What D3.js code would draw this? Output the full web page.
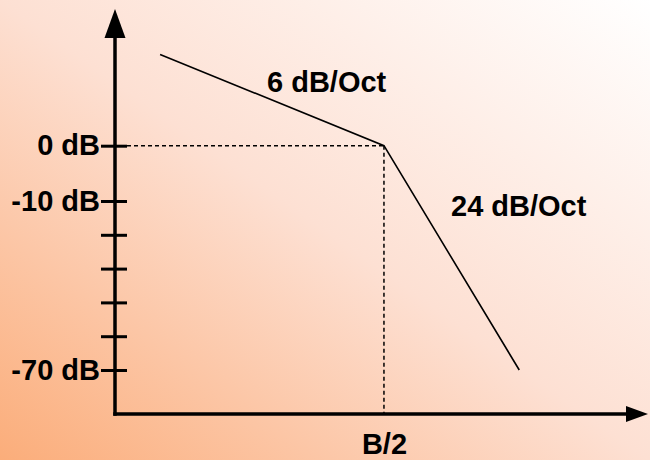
<!DOCTYPE html>
<html>
<head>
<meta charset="utf-8">
<script src="https://cdn.jsdelivr.net/npm/d3@7"></script>
<style>
  body { margin: 0; background: #fff; }
  svg { display: block; }
  text { font-family: "Liberation Sans", Arial, sans-serif; font-weight: bold; fill: #000; }
</style>
</head>
<body>
<svg width="650" height="460"></svg>
<script>
// response in octaves relative to B/2 and dB
const octaves = [-2.73, 0, 1.65];
const levels = [16.5, 0, -70];

const dbTicks = [0, -10, -22, -34, -46, -58, -70];
const dbLabels = ["0 dB", "-10 dB", "", "", "", "", "-70 dB"];
const xTicks = [0];
const xLabels = ["B/2"];
const slopeLabels = ["6 dB/Oct", "24 dB/Oct"];

const ox = 115, oy = 414;   // axis origin
const svg = d3.select("svg");

// background gradient
const grad = svg.append("defs").append("linearGradient")
  .attr("id", "bg")
  .attr("x1", 0).attr("y1", 1).attr("x2", 1).attr("y2", 0);
grad.append("stop").attr("offset", 0).attr("stop-color", "#fbad7a");
grad.append("stop").attr("offset", 0.5).attr("stop-color", "#fde0d3");
grad.append("stop").attr("offset", 1).attr("stop-color", "#ffffff");

svg.append("rect")
  .attr("width", 650).attr("height", 460)
  .attr("fill", "url(#bg)");

// Scales (the dB axis is schematic: 0..-10 stretched)
const x = d3.scaleLinear().domain([-3.28, 3.22]).range([ox, 648]);
const y = d3.scaleLinear().domain([0, -10, -70]).range([145.7, 201, 370]);

const data = octaves.map((o, i) => ({ oct: o, db: levels[i] }));
const knee = data[1];

// dashed guides to B/2 / 0 dB
svg.append("line")
  .attr("x1", ox + 12).attr("x2", x(knee.oct))
  .attr("y1", y(knee.db)).attr("y2", y(knee.db))
  .attr("stroke", "#000").attr("stroke-width", 1.5)
  .attr("stroke-dasharray", "4,3");

svg.append("line")
  .attr("x1", x(knee.oct)).attr("x2", x(knee.oct))
  .attr("y1", y(knee.db)).attr("y2", oy)
  .attr("stroke", "#000").attr("stroke-width", 1.5)
  .attr("stroke-dasharray", "4,3");

// response curve
svg.append("path")
  .datum(data)
  .attr("fill", "none")
  .attr("stroke", "#000")
  .attr("stroke-width", 1.6)
  .attr("d", d3.line().x(d => x(d.oct)).y(d => y(d.db)));

// Y axis ticks + labels
const yAxis = svg.append("g")
  .attr("transform", `translate(${ox},0)`)
  .call(d3.axisLeft(y)
    .tickValues(dbTicks)
    .tickSize(14)
    .tickPadding(1)
    .tickFormat((d, i) => dbLabels[i]));
yAxis.select(".domain").remove();
yAxis.selectAll(".tick line")
  .attr("x1", 12).attr("x2", -14)
  .attr("stroke", "#000").attr("stroke-width", 3);
yAxis.selectAll(".tick text")
  .style("font-size", "29px")
  .attr("fill", "#000");

// X axis label
const xAxis = svg.append("g")
  .attr("transform", `translate(0,${oy})`)
  .call(d3.axisBottom(x)
    .tickValues(xTicks)
    .tickSize(0)
    .tickPadding(19)
    .tickFormat((d, i) => xLabels[i]));
xAxis.select(".domain").remove();
xAxis.selectAll(".tick text")
  .style("font-size", "29px")
  .attr("fill", "#000");

// axis lines with arrows
svg.append("line")
  .attr("x1", ox).attr("x2", ox)
  .attr("y1", oy + 1.75).attr("y2", 36)
  .attr("stroke", "#000").attr("stroke-width", 3.5);
svg.append("polygon")
  .attr("points", `${ox},9 ${ox - 10.5},38 ${ox + 10.5},38`)
  .attr("fill", "#000");

svg.append("line")
  .attr("x1", ox - 1.75).attr("x2", 628)
  .attr("y1", oy).attr("y2", oy)
  .attr("stroke", "#000").attr("stroke-width", 3.5);
svg.append("polygon")
  .attr("points", `648,${oy} 626,${oy - 8} 626,${oy + 8}`)
  .attr("fill", "#000");

// slope annotations
svg.append("text")
  .attr("x", 267).attr("y", 92)
  .style("font-size", "29px")
  .text(slopeLabels[0]);

svg.append("text")
  .attr("x", 451).attr("y", 216)
  .style("font-size", "29px")
  .text(slopeLabels[1]);
</script>
</body>
</html>
